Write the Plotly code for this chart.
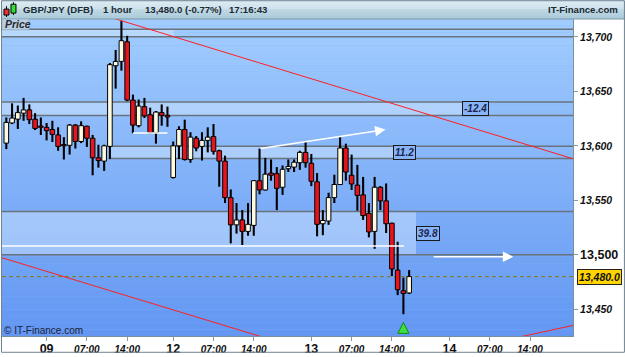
import plotly.graph_objects as go

# ---------------- data ----------------
bar_index = list(range(-7, 64))  # hourly bars, 0 = 09 00:00

opens = [13602.5, 13621, 13624.5, 13630, 13633, 13624.5, 13617.5, 13617, 13615, 13610,
         13600.5, 13600.5, 13619, 13604, 13618, 13607, 13589, 13586, 13599.5, 13673.5,
         13677.5, 13695.5, 13642, 13618.5, 13636, 13628.5, 13612, 13630.5, 13628, 13571,
         13600, 13615, 13587.5, 13607, 13599.5, 13605, 13608.5, 13595.5, 13586, 13552.5,
         13527.5, 13532, 13521.5, 13527, 13568, 13559.5, 13575, 13574.5, 13562, 13579,
         13580.5, 13584.5, 13594, 13584, 13567, 13528.5, 13531, 13552.5, 13564.5, 13598,
         13573, 13564, 13555, 13538, 13521.5, 13562, 13549.5, 13529, 13486, 13467, 13465]
highs = [13626, 13639, 13637, 13644, 13638, 13630, 13626, 13621, 13623, 13617,
         13608, 13620, 13620, 13622.5, 13618.5, 13610, 13601, 13601, 13676, 13688,
         13714.5, 13701, 13647, 13642.5, 13644, 13635, 13632, 13638, 13636, 13604,
         13618, 13624, 13612.5, 13609, 13612.5, 13617, 13620, 13596.5, 13591, 13560,
         13547.5, 13541, 13547.5, 13568.5, 13597.5, 13589, 13587.5, 13580.5, 13582, 13587.5,
         13587.5, 13595.5, 13603.5, 13592.5, 13575, 13541, 13557, 13573.5, 13608, 13602,
         13592, 13582.5, 13571.5, 13547.5, 13571.5, 13563, 13565.5, 13529.5, 13512, 13479, 13486]
lows = [13597, 13620, 13615.5, 13623, 13620, 13614.5, 13610, 13605, 13603.5, 13595.5,
        13587.5, 13592, 13597.5, 13602.5, 13599, 13573, 13580, 13577, 13588, 13652.5,
        13669, 13641, 13611.5, 13617, 13625.5, 13611, 13602, 13618.5, 13617.5, 13570,
        13588, 13586.5, 13584.5, 13595, 13586.5, 13594, 13592, 13562.5, 13547.5, 13510.5,
        13519.5, 13509, 13517.5, 13517.5, 13555.5, 13559, 13568, 13541, 13555, 13576,
        13576, 13578, 13580, 13563, 13517, 13518, 13527.5, 13547.5, 13564, 13568,
        13559.5, 13540.5, 13532, 13516, 13505.5, 13541, 13520, 13480.5, 13463, 13445.5, 13464]
closes = [13621.5, 13625.5, 13630.5, 13633, 13624, 13616, 13617, 13614, 13610.5, 13599.5,
          13600, 13619, 13604, 13618.5, 13607, 13589, 13586.5, 13600, 13674.5, 13677.5,
          13696.5, 13642, 13619, 13636.5, 13627.5, 13612, 13631, 13628, 13626.5, 13600,
          13615, 13587.5, 13608, 13598, 13605, 13608, 13595, 13586, 13552.5, 13527.5,
          13532, 13521.5, 13528, 13568, 13559.5, 13574, 13573, 13561, 13578.5, 13581,
          13585, 13594, 13584.5, 13567.5, 13528, 13531.5, 13552.5, 13564.5, 13598, 13576,
          13565, 13554.5, 13536, 13521, 13562, 13549.5, 13528.5, 13487, 13468, 13464.5, 13480.0]

last_price = 13480.0

x_tick_vals = [0, 7, 14, 22, 29, 36, 46, 53, 60, 70, 77, 84]
x_tick_labels = ["09", "07:00", "14:00", "12", "07:00", "14:00", "13", "07:00", "14:00", "14", "07:00", "14:00"]
y_tick_vals = [13450, 13500, 13550, 13600, 13650, 13700]
y_tick_labels = ["13,450", "13,500", "13,550", "13,600", "13,650", "13,700"]

# horizontal zones (price levels) and their extents in bar index
zone_lo = [13700.0, 13627.8, 13588.5, 13500.0]
zone_hi = [13707.0, 13640.2, 13599.7, 13539.8]
zone_fill_start = [-7.75, -7.75, 10.8, -7.75]
zone_fill_end = [22.1, 72.4, 60.4, 64.2]
zone_line_start = [-7.75, -7.75, 10.8, -7.75]
zone_label_text = ["", "-12.4", "11.2", "39.8"]
zone_label_pos = [None, 74.5, 62.2, 66.2]

# trend lines (bar index, price)
red_lines = [
    ([10, 92], [13719.7, 13587.3]),
    ([-8, 40], [13497.7, 13420.5]),
    ([80, 92], [13422.1, 13435.8]),
]
white_segments = [
    ([15, 21], [13611.8, 13611.8]),
    ([-7.75, 62.1], [13508.0, 13508.0]),
]
white_arrows = [
    (36.9, 13597.3, 58.9, 13615.0),
    (67.0, 13498.2, 81.1, 13498.2),
]
signal_index = [62]
signal_price = [13438]

header_items = ["GBP/JPY (DFB)", "1 hour", "13,480.0 (-0.77%)", "17:16:43"]

X_RANGE = [-7.75, 91.47]
Y_RANGE = [13425.5, 13716.4]

FONT = "Liberation Sans, Arial, sans-serif"
UP_FILL = "#fffbe2"
DOWN_FILL = "#e8141c"

fig = go.Figure()

for xs, ys in red_lines:
    fig.add_trace(go.Scatter(x=xs, y=ys, mode="lines", line=dict(color="#ff2020", width=1),
                             hoverinfo="skip", showlegend=False))
for xs, ys in white_segments:
    fig.add_trace(go.Scatter(x=xs, y=ys, mode="lines", line=dict(color="white", width=1.5),
                             hoverinfo="skip", showlegend=False))

# candles: wick bars (low..high) and body bars (open..close)
wick_len = [h - l for h, l in zip(highs, lows)]
body_base = [min(o, c) for o, c in zip(opens, closes)]
body_len = [max(abs(c - o), 1.2) for o, c in zip(opens, closes)]
body_col = [UP_FILL if c >= o else DOWN_FILL for o, c in zip(opens, closes)]

fig.add_trace(go.Bar(x=bar_index, y=wick_len, base=lows, width=0.36,
                     marker=dict(color="black", line=dict(width=0)),
                     hoverinfo="skip", showlegend=False))
fig.add_trace(go.Bar(x=bar_index, y=body_len, base=body_base, width=0.8,
                     marker=dict(color=body_col, line=dict(color="black", width=1)),
                     hoverinfo="skip", showlegend=False))

fig.add_trace(go.Scatter(x=signal_index, y=signal_price, mode="markers",
                         marker=dict(symbol="arrow-up", size=11, color="#3ee03e",
                                     line=dict(color="#138a13", width=1)),
                         hoverinfo="skip", showlegend=False))

shapes = []
# plot background gradient
N = 48
top = (162, 205, 255)
bot = (98, 150, 242)
for i in range(N):
    t = (i + 0.5) / N
    c = tuple(int(round(top[k] + (bot[k] - top[k]) * t)) for k in range(3))
    shapes.append(dict(type="rect", xref="paper", yref="paper", x0=0, x1=1,
                       y0=1 - (i + 1) / N, y1=1 - i / N, layer="below",
                       line=dict(width=0), fillcolor="rgb(%d,%d,%d)" % c))
# zones
for lo, hi, fs, fe, ls in zip(zone_lo, zone_hi, zone_fill_start, zone_fill_end, zone_line_start):
    shapes.append(dict(type="rect", xref="x", yref="y", x0=fs, x1=fe, y0=lo, y1=hi,
                       layer="below", line=dict(width=0), fillcolor="rgba(215,235,255,0.45)"))
    for lev in (lo, hi):
        shapes.append(dict(type="line", xref="x", yref="y", x0=ls, x1=X_RANGE[1], y0=lev, y1=lev,
                           layer="below", line=dict(color="#6a737d", width=1.5)))
# last price dashed line
shapes.append(dict(type="line", xref="paper", yref="y", x0=0, x1=1, y0=last_price, y1=last_price,
                   layer="below", line=dict(color="#8a7a12", width=1, dash="4px,3px")))

# header bar gradient (pixels 0..19)
def py(p):
    return (340 - p) / 321.0
def px(p):
    return (p - 1) / 572.0
for i in range(19):
    t = i / 18
    c = tuple(int(round(a + (b - a) * t)) for a, b in zip((214, 232, 240), (170, 202, 216)))
    shapes.append(dict(type="rect", xref="paper", yref="paper", x0=px(0), x1=px(625),
                       y0=py(i + 1), y1=py(i), line=dict(width=0), fillcolor="rgb(%d,%d,%d)" % c))
shapes.append(dict(type="line", xref="paper", yref="paper", x0=px(0), x1=px(625), y0=py(19), y1=py(19),
                   line=dict(color="#7d98a8", width=1)))
# icon
shapes.append(dict(type="line", xref="paper", yref="paper", x0=px(5.5), x1=px(5.5), y0=py(17), y1=py(6),
                   line=dict(color="black", width=1)))
shapes.append(dict(type="rect", xref="paper", yref="paper", x0=px(3), x1=px(8), y0=py(15), y1=py(9),
                   line=dict(color="black", width=1), fillcolor="#ee3333"))
shapes.append(dict(type="line", xref="paper", yref="paper", x0=px(12.5), x1=px(12.5), y0=py(15), y1=py(2),
                   line=dict(color="black", width=1)))
shapes.append(dict(type="rect", xref="paper", yref="paper", x0=px(10), x1=px(15), y0=py(13), y1=py(4),
                   line=dict(color="black", width=1), fillcolor="#33dd33"))
# Price box
shapes.append(dict(type="rect", xref="paper", yref="paper", x0=px(1), x1=px(28), y0=py(30), y1=py(19),
                   line=dict(color="#9db4c8", width=1), fillcolor="#b8cfe6"))
# outer frame
shapes.append(dict(type="rect", xref="paper", yref="paper", x0=px(0.5), x1=px(624.5), y0=py(356.5), y1=py(0.5),
                   line=dict(color="#6f8290", width=1), fillcolor="rgba(0,0,0,0)"))

annotations = []
hdr_x = [21, 101, 143, 227]
for x0, txt in zip(hdr_x, header_items):
    annotations.append(dict(xref="paper", yref="paper", x=px(x0), y=py(9.5), xanchor="left", yanchor="middle",
                            text="<b>%s</b>" % txt, showarrow=False, borderpad=0,
                            font=dict(family=FONT, size=9.6, color="#1c2a33")))
annotations.append(dict(xref="paper", yref="paper", x=px(619), y=py(9.5), xanchor="right", yanchor="middle",
                        text="<b>IT-Finance.com</b>", showarrow=False, borderpad=0,
                        font=dict(family=FONT, size=9.6, color="#1c2a33")))
annotations.append(dict(xref="paper", yref="paper", x=px(3), y=py(24.5), xanchor="left", yanchor="middle",
                        text="<b><i>Price</i></b>", showarrow=False, borderpad=0,
                        font=dict(family=FONT, size=10.5, color="#2a2a2a")))
annotations.append(dict(xref="paper", yref="paper", x=px(2), y=py(334.5), xanchor="left", yanchor="middle",
                        text="© IT-Finance.com", showarrow=False, borderpad=0,
                        font=dict(family=FONT, size=10, color="#1a2238")))
for txt, xpos, lo, hi in zip(zone_label_text, zone_label_pos, zone_lo, zone_hi):
    if not txt:
        continue
    annotations.append(dict(xref="x", yref="y", x=xpos, y=(lo + hi) / 2, text="<b><i>%s</i></b>" % txt,
                            showarrow=False, bgcolor="#86b4f6", bordercolor="#1a1a1a", borderwidth=1,
                            borderpad=1, font=dict(family=FONT, size=10, color="#1c2450")))
for x0, y0, x1, y1 in white_arrows:
    annotations.append(dict(xref="x", yref="y", axref="x", ayref="y", x=x1, y=y1, ax=x0, ay=y0,
                            text="", showarrow=True, arrowhead=2, arrowsize=1.4, arrowwidth=1.5,
                            arrowcolor="white", standoff=0, startstandoff=0))
annotations.append(dict(xref="paper", yref="y", x=1, y=last_price, xanchor="left", xshift=4,
                        text="<b><i>13,480.0</i></b>", showarrow=False, bgcolor="#ffd400",
                        bordercolor="#222", borderwidth=1, borderpad=1,
                        font=dict(family=FONT, size=10.5, color="#111")))

def xlab(t):
    if ":" in t:
        return "<b><i>%s</i></b>" % t
    return "<b><span style='font-size:12.5px'>%s</span></b>" % t

def ylab(t):
    if t == "13,500":
        return "<b><span style='font-size:12.5px'>%s</span></b>" % t
    return "<b><i>%s</i></b>" % t

fig.update_layout(
    width=625, height=357, margin=dict(l=1, r=52, t=19, b=17),
    paper_bgcolor="white", plot_bgcolor="#80b4f8", showlegend=False,
    barmode="overlay",
    shapes=shapes, annotations=annotations,
    xaxis=dict(range=X_RANGE, tickvals=x_tick_vals, ticktext=[xlab(t) for t in x_tick_labels],
               ticks="outside", ticklen=4, tickcolor="#8a9aa8", showgrid=False, zeroline=False,
               showline=True, linecolor="#7890a0", linewidth=1,
               tickfont=dict(family=FONT, size=10, color="#111"), fixedrange=True),
    yaxis=dict(side="right", range=Y_RANGE, tickvals=y_tick_vals, ticktext=[ylab(t) for t in y_tick_labels],
               ticks="outside", ticklen=4, tickcolor="#8a9aa8", showgrid=False, zeroline=False,
               showline=True, mirror=True, linecolor="#7890a0", linewidth=1,
               tickfont=dict(family=FONT, size=10.5, color="#111"), fixedrange=True),
)

fig.write_html("out.html")
